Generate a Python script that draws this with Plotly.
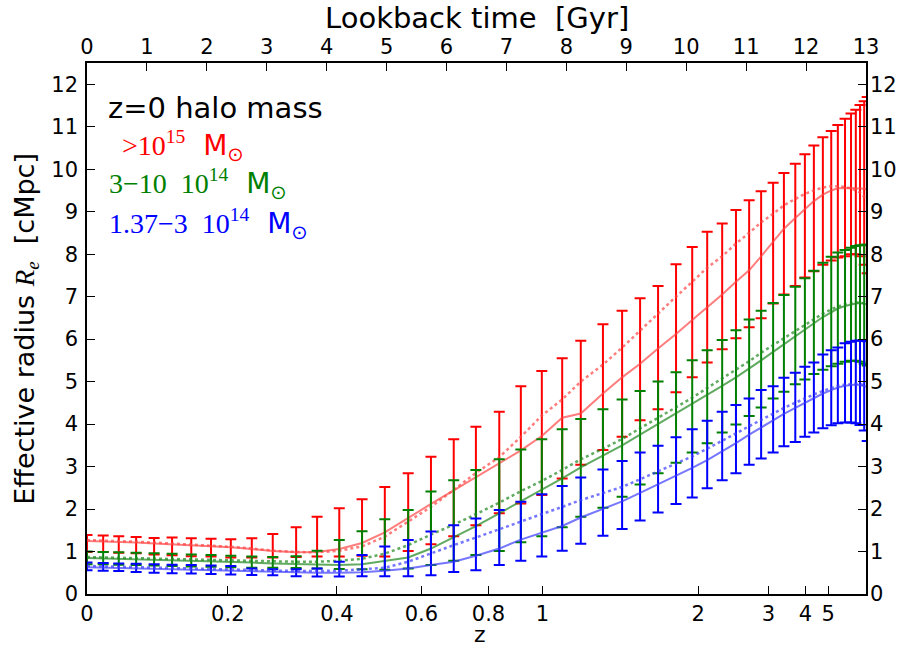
import numpy as np
import plotly.graph_objects as go

# ---------------- data ----------------
lookback_gyr = [0.00, 0.27, 0.53, 0.82, 1.12, 1.42, 1.74, 2.07, 2.40, 2.75,
                3.10, 3.49, 3.84, 4.21, 4.59, 4.97, 5.36, 5.74, 6.12, 6.49,
                6.88, 7.24, 7.59, 7.93, 8.24, 8.61, 8.93, 9.23, 9.53, 9.83,
                10.10, 10.35, 10.60, 10.83, 11.05, 11.25, 11.45, 11.63, 11.82, 11.98,
                12.13, 12.28, 12.42, 12.53, 12.65, 12.75, 12.83, 12.90, 12.97, 13.02]

# >1e15 Msun (red)
red_median = [1.25, 1.24, 1.23, 1.21, 1.19, 1.17, 1.15, 1.13, 1.10, 1.06,
              1.01, 0.98, 0.99, 1.06, 1.20, 1.45, 1.80, 2.12, 2.44, 2.75,
              3.08, 3.38, 3.72, 4.15, 4.25, 4.72, 5.10, 5.42, 5.78, 6.12,
              6.45, 6.75, 7.05, 7.35, 7.62, 7.95, 8.30, 8.60, 8.85, 9.05,
              9.25, 9.40, 9.50, 9.55, 9.56, 9.56, 9.55, 9.55, 9.54, 9.52]
red_mean = [1.27, 1.26, 1.25, 1.23, 1.21, 1.19, 1.17, 1.14, 1.11, 1.07,
            1.02, 0.99, 0.98, 1.02, 1.12, 1.35, 1.70, 2.05, 2.45, 2.85,
            3.22, 3.70, 4.20, 4.58, 5.00, 5.40, 5.80, 6.20, 6.62, 7.00,
            7.35, 7.68, 7.95, 8.25, 8.50, 8.75, 8.95, 9.15, 9.30, 9.42,
            9.50, 9.57, 9.60, 9.60, 9.58, 9.55, 9.50, 9.45, 9.35, 9.25]
red_upper = [1.39, 1.38, 1.36, 1.34, 1.32, 1.33, 1.31, 1.30, 1.29, 1.31,
             1.41, 1.57, 1.82, 2.02, 2.23, 2.52, 2.84, 3.23, 3.64, 3.94,
             4.29, 4.89, 5.25, 5.55, 5.96, 6.35, 6.67, 6.96, 7.25, 7.76,
             8.17, 8.53, 8.72, 9.04, 9.27, 9.48, 9.68, 9.91, 10.13, 10.35,
             10.56, 10.75, 10.90, 11.04, 11.19, 11.31, 11.40, 11.51, 11.60, 11.70]
red_lower = [0.99, 0.99, 0.97, 0.96, 0.93, 0.91, 0.89, 0.88, 0.86, 0.86,
             0.86, 0.87, 0.88, 0.88, 0.90, 0.88, 1.01, 1.17, 1.36, 1.62,
             1.90, 2.13, 2.33, 2.72, 3.04, 3.39, 3.70, 4.09, 4.35, 4.75,
             5.10, 5.45, 5.76, 6.02, 6.28, 6.49, 6.84, 7.05, 7.25, 7.45,
             7.60, 7.75, 7.85, 7.92, 7.95, 8.00, 8.00, 7.95, 7.75, 7.55]

# 3-10 x 1e14 Msun (green)
green_median = [0.85, 0.84, 0.83, 0.82, 0.81, 0.80, 0.79, 0.77, 0.76, 0.74,
                0.72, 0.70, 0.69, 0.68, 0.70, 0.78, 0.86, 1.07, 1.33, 1.60,
                1.90, 2.18, 2.45, 2.72, 2.98, 3.25, 3.50, 3.75, 4.00, 4.25,
                4.47, 4.68, 4.90, 5.10, 5.30, 5.50, 5.70, 5.88, 6.06, 6.22,
                6.38, 6.52, 6.63, 6.72, 6.78, 6.82, 6.84, 6.85, 6.84, 6.82]
green_mean = [0.87, 0.86, 0.85, 0.84, 0.83, 0.82, 0.81, 0.80, 0.79, 0.78,
              0.77, 0.76, 0.76, 0.78, 0.83, 0.95, 1.15, 1.40, 1.63, 1.88,
              2.15, 2.42, 2.66, 2.92, 3.17, 3.42, 3.65, 3.90, 4.15, 4.40,
              4.62, 4.85, 5.07, 5.28, 5.48, 5.68, 5.86, 6.03, 6.20, 6.35,
              6.48, 6.60, 6.70, 6.77, 6.82, 6.85, 6.86, 6.86, 6.85, 6.83]
green_upper = [1.00, 0.99, 0.98, 0.97, 0.96, 0.95, 0.93, 0.92, 0.90, 0.88,
               0.87, 0.89, 1.02, 1.27, 1.48, 1.76, 1.98, 2.41, 2.68, 2.92,
               3.17, 3.40, 3.64, 3.88, 4.12, 4.35, 4.58, 4.78, 5.00, 5.22,
               5.50, 5.74, 5.98, 6.21, 6.46, 6.67, 6.85, 7.04, 7.23, 7.43,
               7.61, 7.80, 7.94, 8.04, 8.10, 8.15, 8.19, 8.21, 8.22, 8.22]
green_lower = [0.70, 0.70, 0.69, 0.68, 0.67, 0.66, 0.65, 0.64, 0.63, 0.62,
               0.62, 0.61, 0.60, 0.59, 0.58, 0.57, 0.60, 0.68, 0.78, 0.92,
               1.01, 1.22, 1.36, 1.57, 1.82, 2.03, 2.29, 2.58, 2.84, 3.09,
               3.33, 3.55, 3.80, 3.99, 4.19, 4.39, 4.60, 4.76, 4.94, 5.05,
               5.18, 5.28, 5.36, 5.42, 5.47, 5.49, 5.49, 5.47, 5.42, 5.38]

# 1.37-3 x 1e14 Msun (blue)
blue_median = [0.63, 0.62, 0.61, 0.60, 0.59, 0.58, 0.57, 0.56, 0.55, 0.53,
               0.52, 0.51, 0.50, 0.50, 0.51, 0.55, 0.60, 0.68, 0.76, 0.90,
               1.07, 1.28, 1.45, 1.60, 1.80, 2.00, 2.18, 2.38, 2.58, 2.78,
               2.97, 3.15, 3.35, 3.55, 3.75, 3.92, 4.08, 4.24, 4.38, 4.50,
               4.62, 4.72, 4.80, 4.86, 4.90, 4.92, 4.93, 4.92, 4.90, 4.88]
blue_mean = [0.66, 0.65, 0.64, 0.63, 0.62, 0.61, 0.60, 0.59, 0.57, 0.56,
             0.55, 0.54, 0.54, 0.55, 0.58, 0.62, 0.76, 0.96, 1.15, 1.33,
             1.52, 1.70, 1.88, 2.05, 2.21, 2.37, 2.52, 2.70, 2.88, 3.06,
             3.24, 3.42, 3.60, 3.78, 3.95, 4.10, 4.25, 4.38, 4.50, 4.61,
             4.70, 4.78, 4.85, 4.90, 4.93, 4.95, 4.95, 4.94, 4.92, 4.90]
blue_upper = [0.74, 0.73, 0.72, 0.71, 0.70, 0.69, 0.68, 0.67, 0.66, 0.60,
              0.58, 0.58, 0.60, 0.76, 0.92, 1.12, 1.27, 1.47, 1.62, 1.78,
              1.98, 2.17, 2.35, 2.54, 2.74, 2.93, 3.13, 3.33, 3.49, 3.69,
              3.88, 4.08, 4.29, 4.45, 4.60, 4.80, 4.89, 5.09, 5.21, 5.35,
              5.45, 5.64, 5.74, 5.80, 5.90, 5.94, 5.96, 5.97, 5.96, 5.95]
blue_lower = [0.56, 0.55, 0.54, 0.52, 0.50, 0.49, 0.48, 0.47, 0.46, 0.45,
              0.44, 0.42, 0.41, 0.41, 0.42, 0.42, 0.42, 0.44, 0.52, 0.56,
              0.68, 0.78, 0.88, 1.02, 1.18, 1.37, 1.53, 1.73, 1.92, 2.12,
              2.27, 2.49, 2.68, 2.84, 3.04, 3.19, 3.33, 3.48, 3.58, 3.70,
              3.80, 3.90, 3.97, 4.02, 4.04, 4.04, 4.02, 3.98, 3.85, 3.60]

# bottom axis: redshift labels placed at their lookback times
z_tick_labels = ["0", "0.2", "0.4", "0.6", "0.8", "1", "2", "3", "4", "5"]
z_tick_lookback = [0.0, 2.35, 4.17, 5.58, 6.70, 7.60, 10.20, 11.37, 11.99, 12.37]
lookback_ticks = list(range(0, 14))
radius_ticks = list(range(0, 13))

# ---------------- figure ----------------
FONT = "DejaVu Sans, sans-serif"

series = [
    ("rgb(255,0,0)", "rgba(255,70,70,0.7)", red_median, red_mean, red_upper, red_lower),
    ("rgb(0,128,0)", "rgba(30,135,30,0.7)", green_median, green_mean, green_upper, green_lower),
    ("rgb(0,0,255)", "rgba(60,60,255,0.7)", blue_median, blue_mean, blue_upper, blue_lower),
]

fig = go.Figure()
x = np.array(lookback_gyr)
for col, lcol, med, mean, up, lo in series:
    med = np.array(med); up = np.array(up); lo = np.array(lo)
    fig.add_trace(go.Scatter(
        x=x, y=med, mode="markers",
        marker=dict(size=1, color="rgba(0,0,0,0)"),
        error_y=dict(type="data", symmetric=False, array=up - med, arrayminus=med - lo,
                     color=col, thickness=2, width=5.5),
        showlegend=False, hoverinfo="skip"))
    fig.add_trace(go.Scatter(x=x, y=med, mode="lines",
                             line=dict(color=lcol, width=2), showlegend=False))
    fig.add_trace(go.Scatter(x=x, y=mean, mode="lines",
                             line=dict(color=lcol, width=2.5, dash="dot"), showlegend=False))

# invisible trace for the top / right axes
fig.add_trace(go.Scatter(x=[0, 13], y=[0, 12.5], xaxis="x2", yaxis="y2", mode="markers",
                         marker=dict(color="rgba(0,0,0,0)"), showlegend=False, hoverinfo="skip"))

axis_common = dict(ticks="inside", ticklen=8, tickwidth=1.3, tickcolor="black",
                   showgrid=False, zeroline=False, automargin=False,
                   tickfont=dict(family=FONT, size=21, color="black"))

fig.update_layout(
    width=906, height=650,
    margin=dict(l=87, r=40, t=63, b=56),
    paper_bgcolor="white", plot_bgcolor="white",
    font=dict(family=FONT, color="black"),
    xaxis=dict(range=[0, 13], tickvals=z_tick_lookback, ticktext=z_tick_labels,
               showline=True, linecolor="black", linewidth=1.5, mirror=True,
               ticklabelstandoff=0, **axis_common),
    xaxis2=dict(range=[0, 13], overlaying="x", side="top", anchor="y",
                tickvals=lookback_ticks, ticklabelstandoff=4, **axis_common),
    yaxis=dict(range=[0, 12.5], tickvals=radius_ticks,
               showline=True, linecolor="black", linewidth=1.5, mirror=True,
               ticklabelstandoff=3, **axis_common),
    yaxis2=dict(range=[0, 12.5], overlaying="y", side="right", anchor="x",
                tickvals=radius_ticks, ticklabelstandoff=3, **axis_common),
)

# axis titles
fig.add_annotation(x=0.5, y=1.085, xref="paper", yref="paper", text="Lookback time  [Gyr]",
                   showarrow=False, font=dict(family=FONT, size=29), xanchor="center", yanchor="middle")
fig.add_annotation(x=0.505, y=-0.104, xref="paper", yref="paper", text="z",
                   showarrow=False, font=dict(family=FONT, size=22), xanchor="center", yanchor="bottom")
fig.add_annotation(x=-0.078, y=0.5, xref="paper", yref="paper", textangle=-90,
                   text="Effective radius <span style='font-family:Liberation Serif'><i>R<sub>e</sub></i></span>  [cMpc]",
                   showarrow=False, font=dict(family=FONT, size=27), xanchor="center", yanchor="middle")

legend_rows = [
    ("z=0 halo mass", "black", 0.915, 0.025),
    ("<span style='font-family:Liberation Serif'>&gt;10<sup>15</sup></span>  M<sub>⊙</sub>", "red", 0.843, 0.043),
    ("<span style='font-family:Liberation Serif'>3−10  10<sup>14</sup></span>  M<sub>⊙</sub>", "green", 0.772, 0.026),
    ("<span style='font-family:Liberation Serif'>1.37−3  10<sup>14</sup></span>  M<sub>⊙</sub>", "blue", 0.697, 0.026),
]
for text, col, yy, xx in legend_rows:
    fig.add_annotation(x=xx, y=yy, xref="paper", yref="paper", xanchor="left", yanchor="middle",
                       text=text, showarrow=False,
                       font=dict(family=FONT, size=29 if col == "black" else 28, color=col))

fig.write_html("out.html", config={"displayModeBar": False},
               post_script="document.body.style.margin='0px';")
